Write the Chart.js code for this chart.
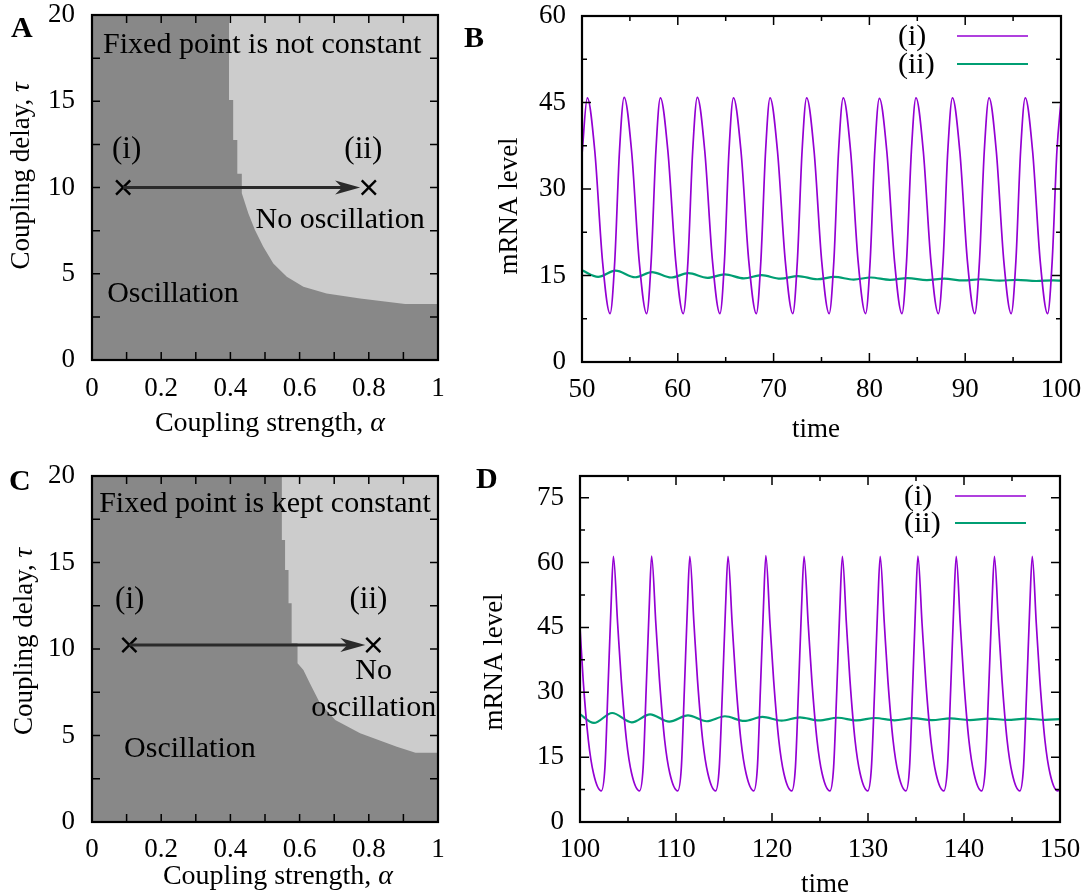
<!DOCTYPE html>
<html><head><meta charset="utf-8">
<script src="https://cdn.jsdelivr.net/npm/chart.js@4.4.1/dist/chart.umd.min.js"></script>
<style>
html,body{margin:0;padding:0;background:#fff;}
#wrap{position:relative;width:1090px;height:896px;overflow:hidden;background:#fff;}
canvas{position:absolute;}
</style></head><body>
<div id="wrap">
<canvas id="cA" width="460" height="440" style="left:0;top:0;width:460px;height:440px"></canvas>
<canvas id="cB" width="630" height="440" style="left:460px;top:0;width:630px;height:440px"></canvas>
<canvas id="cC" width="460" height="448" style="left:0;top:448px;width:460px;height:448px"></canvas>
<canvas id="cD" width="630" height="448" style="left:460px;top:448px;width:630px;height:448px"></canvas>
</div>
<script>
const FONT = "'Liberation Serif','Times New Roman',serif";

// ---------- Panel A / C : phase diagrams ----------
const alphaTickLabels = [0, 0.2, 0.4, 0.6, 0.8, 1];
const alphaTickMarks = [0.1, 0.2, 0.3, 0.4, 0.5, 0.6, 0.7, 0.8, 0.9];
const tauTickLabels = [0, 5, 10, 15, 20];
const tauTickMarks = [2.5, 5, 7.5, 10, 12.5, 15, 17.5];

// boundary of the "no oscillation" region (light region lies above it)
const boundaryA_alpha = [0.396, 0.396, 0.408, 0.408, 0.42, 0.42, 0.433, 0.433, 0.452, 0.471, 0.495, 0.524, 0.563, 0.611, 0.678, 0.775, 0.905, 1.0];
const boundaryA_tau   = [20, 15.07, 15.07, 12.75, 12.75, 10.8, 10.8, 9.66, 8.5, 7.54, 6.57, 5.6, 4.83, 4.25, 3.86, 3.57, 3.25, 3.25];
const markersA_alpha = [0.09, 0.80];
const markersA_tau   = [10, 10];
const arrowA_alpha = [0.09, 0.775];
const arrowA_tau = 10;

const boundaryC_alpha = [0.548, 0.548, 0.558, 0.558, 0.568, 0.568, 0.577, 0.577, 0.594, 0.594, 0.611, 0.63, 0.659, 0.703, 0.775, 0.881, 0.935, 1.0];
const boundaryC_tau   = [20, 16.3, 16.3, 14.57, 14.57, 12.64, 12.64, 10.33, 10.33, 9.17, 8.79, 8.0, 6.86, 5.9, 5.13, 4.35, 4.0, 4.0];
const markersC_alpha = [0.108, 0.813];
const markersC_tau   = [10.23, 10.23];
const arrowC_alpha = [0.108, 0.79];
const arrowC_tau = 10.23;

// ---------- Panel B ----------
const timeTicksB = [50, 60, 70, 80, 90, 100];
const timeMajorB = [60, 70, 80, 90];
const timeMinorB = [55, 65, 75, 85, 95];
const mrnaTicksB = [0, 15, 30, 45, 60];
const mrnaMajorB = [15, 30, 45];
const mrnaMinorB = [7.5, 22.5, 37.5, 52.5];

const timeB_i = [50, 50.55,
  51.34, 52.14, 52.93, 53.42, 53.91, 54.40,
  55.18, 55.97, 56.75, 57.22, 57.71, 58.18,
  58.97, 59.78, 60.57, 61.06, 61.55, 62.04,
  62.82, 63.62, 64.4, 64.87, 65.34, 65.81,
  66.6, 67.41, 68.2, 68.67, 69.16, 69.63,
  70.41, 71.22, 72.0, 72.48, 72.97, 73.45,
  74.23, 75.02, 75.8, 76.29, 76.78, 77.27,
  78.04, 78.82, 79.6, 80.08, 80.56, 81.04,
  81.82, 82.62, 83.4, 83.88, 84.38, 84.86,
  85.63, 86.42, 87.2, 87.69, 88.18, 88.67,
  89.44, 90.23, 91.0, 91.49, 91.99, 92.49,
  93.25, 94.03, 94.8, 95.29, 95.78, 96.27,
  97.04, 97.83, 98.6, 99.08, 99.57, 100];
const mrnaB_i = [36, 45.8,
  36.5, 17.5, 8.4, 17.5, 36.5, 45.9,
  36.5, 17.5, 8.4, 17.5, 36.5, 45.8,
  36.5, 17.5, 8.4, 17.5, 36.5, 45.9,
  36.5, 17.5, 8.4, 17.5, 36.5, 45.8,
  36.5, 17.5, 8.4, 17.5, 36.5, 45.8,
  36.5, 17.5, 8.4, 17.5, 36.5, 45.8,
  36.5, 17.5, 8.4, 17.5, 36.5, 45.8,
  36.5, 17.5, 8.4, 17.5, 36.5, 45.7,
  36.5, 17.5, 8.4, 17.5, 36.5, 45.8,
  36.5, 17.5, 8.4, 17.5, 36.5, 45.8,
  36.5, 17.5, 8.4, 17.5, 36.5, 45.8,
  36.5, 17.5, 8.4, 17.5, 36.5, 45.8,
  36.5, 17.5, 8.4, 17.5, 36.5, 45.3];

const timeB_ii = [50, 51.68, 53.5, 55.55, 57.3, 59.3, 61.1, 63.1, 64.9, 66.9, 68.75, 70.7, 72.55, 74.55, 76.35, 78.35, 80.15, 82.15, 84.0, 86.0, 87.8, 89.8, 91.6, 93.6, 95.4, 97.4, 99.2, 100];
const mrnaB_ii = [15.9, 14.75, 15.85, 14.7, 15.6, 14.65, 15.4, 14.6, 15.2, 14.5, 15.05, 14.45, 14.9, 14.35, 14.75, 14.3, 14.65, 14.25, 14.55, 14.2, 14.45, 14.15, 14.35, 14.1, 14.25, 14.05, 14.15, 14.1];

// ---------- Panel D ----------
const timeTicksD = [100, 110, 120, 130, 140, 150];
const timeMajorD = [110, 120, 130, 140];
const timeMinorD = [105, 115, 125, 135, 145];
const mrnaTicksD = [0, 15, 30, 45, 60, 75];
const mrnaMajorD = [15, 30, 45, 60, 75];
const mrnaMinorD = [7.5, 22.5, 37.5, 52.5, 67.5];

const timeD_i = [100, 100.33, 100.87, 101.41,
  102.22, 102.6, 102.91, 103.23, 103.48, 103.92, 104.30, 104.84, 105.38,
  106.2, 106.58, 106.89, 107.21, 107.46, 107.9, 108.28, 108.82, 109.36,
  110.18, 110.56, 110.87, 111.19, 111.44, 111.87, 112.24, 112.78, 113.32,
  114.12, 114.51, 114.84, 115.16, 115.42, 115.85, 116.22, 116.76, 117.3,
  118.1, 118.48, 118.79, 119.11, 119.36, 119.79, 120.17, 120.71, 121.24,
  122.05, 122.44, 122.76, 123.08, 123.34, 123.77, 124.15, 124.69, 125.22,
  126.03, 126.42, 126.75, 127.07, 127.33, 127.75, 128.12, 128.65, 129.18,
  129.97, 130.36, 130.69, 131.01, 131.27, 131.7, 132.07, 132.61, 133.15,
  133.95, 134.33, 134.64, 134.95, 135.2, 135.63, 136.01, 136.55, 137.08,
  137.89, 138.28, 138.61, 138.93, 139.19, 139.61, 139.98, 140.51, 141.04,
  141.83, 142.23, 142.57, 142.9, 143.17, 143.59, 143.96, 144.49, 145.02,
  145.81, 146.2, 146.53, 146.85, 147.11, 147.53, 147.9, 148.43, 148.96,
  149.75, 150];
const mrnaD_i = [45.0, 32.8, 18.9, 11.2,
  7.2, 12.7, 30.5, 49.7, 61.4, 45.9, 32.8, 18.9, 11.2,
  7.2, 12.7, 30.5, 49.7, 61.5, 45.9, 32.8, 18.9, 11.2,
  7.2, 12.7, 30.5, 49.7, 61.4, 45.9, 32.8, 18.9, 11.2,
  7.2, 12.7, 30.5, 49.7, 61.4, 45.9, 32.8, 18.9, 11.2,
  7.2, 12.7, 30.5, 49.7, 61.6, 45.9, 32.8, 18.9, 11.2,
  7.2, 12.7, 30.5, 49.7, 61.4, 45.9, 32.8, 18.9, 11.2,
  7.2, 12.7, 30.5, 49.7, 61.4, 45.9, 32.8, 18.9, 11.2,
  7.2, 12.7, 30.5, 49.7, 61.4, 45.9, 32.8, 18.9, 11.2,
  7.2, 12.7, 30.5, 49.7, 61.5, 45.9, 32.8, 18.9, 11.2,
  7.2, 12.7, 30.5, 49.7, 61.4, 45.9, 32.8, 18.9, 11.2,
  7.2, 12.7, 30.5, 49.7, 61.4, 45.9, 32.8, 18.9, 11.2,
  7.2, 12.7, 30.5, 49.7, 61.4, 45.9, 32.8, 18.9, 11.2,
  7.2, 7.6];

const timeD_ii = [100, 101.45, 103.35, 105.4, 107.3, 109.3, 111.25, 113.2, 115.1, 117.1, 119.0, 121.0, 122.9, 124.9, 126.85, 128.8, 130.75, 132.75, 134.7, 136.65, 138.6, 140.6, 142.5, 144.5, 146.45, 148.45, 150];
const mrnaD_ii = [24.9, 22.9, 25.2, 23.05, 24.9, 23.2, 24.67, 23.3, 24.45, 23.36, 24.3, 23.42, 24.2, 23.48, 24.1, 23.5, 24.05, 23.52, 24.0, 23.55, 23.95, 23.57, 23.92, 23.6, 23.9, 23.62, 23.8];

const PURPLE = '#9400d3', GREEN = '#009e73', DARK = '#888888', LIGHT = '#cccccc';

// ---------- helpers ----------
const pts = (xs, ys) => xs.map((x, i) => ({x: x, y: Array.isArray(ys) ? ys[i] : ys}));

function drawParts(ctx, parts, x, y, size, align, baseline, rot) {
  ctx.save();
  ctx.translate(x, y);
  if (rot) ctx.rotate(rot);
  ctx.textBaseline = baseline || 'middle';
  ctx.textAlign = 'left';
  ctx.fillStyle = '#000';
  const fonts = parts.map(p => (p.i ? 'italic ' : '') + (p.b ? 'bold ' : '') + size + 'px ' + FONT);
  let w = 0;
  parts.forEach((p, k) => { ctx.font = fonts[k]; w += ctx.measureText(p.t).width; });
  let cx = align === 'center' ? -w / 2 : (align === 'right' ? -w : 0);
  parts.forEach((p, k) => { ctx.font = fonts[k]; ctx.fillText(p.t, cx, 0); cx += ctx.measureText(p.t).width; });
  ctx.restore();
}

function decor(cfg) {
  return {
    id: 'decor',
    beforeDraw(chart) {
      if (!cfg.bg) return;
      const a = chart.chartArea, ctx = chart.ctx;
      ctx.save(); ctx.fillStyle = cfg.bg;
      ctx.fillRect(a.left, a.top, a.right - a.left, a.bottom - a.top);
      ctx.restore();
    },
    afterDatasetsDraw(chart) {
      const ctx = chart.ctx, xs = chart.scales.x, ys = chart.scales.y;
      if (cfg.arrow) {
        const x0 = xs.getPixelForValue(cfg.arrow.x[0]), x1 = xs.getPixelForValue(cfg.arrow.x[1]);
        const y = ys.getPixelForValue(cfg.arrow.y);
        ctx.save();
        ctx.strokeStyle = '#2a2a2a'; ctx.fillStyle = '#2a2a2a'; ctx.lineWidth = 3;
        ctx.beginPath(); ctx.moveTo(x0, y); ctx.lineTo(x1 - 16, y); ctx.stroke();
        ctx.beginPath(); ctx.moveTo(x1, y); ctx.lineTo(x1 - 25, y - 7); ctx.lineTo(x1 - 18, y); ctx.lineTo(x1 - 25, y + 7); ctx.closePath(); ctx.fill();
        ctx.restore();
      }
      (cfg.texts || []).forEach(t => drawParts(ctx, [{t: t.t}], xs.getPixelForValue(t.x), ys.getPixelForValue(t.y), t.size, 'center', 'middle'));
      if (cfg.legend) {
        const L = cfg.legend;
        chart.data.datasets.forEach((ds, k) => {
          const y = L.y[k];
          drawParts(ctx, [{t: ds.label}], L.textX, y + 1, L.size, 'left', 'middle');
          ctx.save(); ctx.strokeStyle = ds.borderColor; ctx.lineWidth = ds.borderWidth;
          ctx.beginPath(); ctx.moveTo(L.x0, y); ctx.lineTo(L.x1, y); ctx.stroke(); ctx.restore();
        });
      }
    },
    afterDraw(chart) {
      const ctx = chart.ctx, a = chart.chartArea, xs = chart.scales.x, ys = chart.scales.y;
      ctx.save();
      ctx.strokeStyle = '#000'; ctx.lineWidth = 1.5;
      const tk = (vals, len, horiz) => vals.forEach(v => {
        ctx.beginPath();
        if (horiz) { const p = xs.getPixelForValue(v); ctx.moveTo(p, a.bottom); ctx.lineTo(p, a.bottom - len); ctx.moveTo(p, a.top); ctx.lineTo(p, a.top + len); }
        else { const p = ys.getPixelForValue(v); ctx.moveTo(a.left, p); ctx.lineTo(a.left + len, p); ctx.moveTo(a.right, p); ctx.lineTo(a.right - len, p); }
        ctx.stroke();
      });
      tk(cfg.xMajor, cfg.majorLen, true); tk(cfg.xMinor || [], cfg.minorLen, true);
      tk(cfg.yMajor, cfg.majorLen, false); tk(cfg.yMinor || [], cfg.minorLen, false);
      ctx.lineWidth = 2.2;
      ctx.strokeRect(a.left, a.top, a.right - a.left, a.bottom - a.top);
      ctx.restore();
      cfg.titles.forEach(t => drawParts(ctx, t.parts, t.x, t.y, t.size, 'center', t.baseline || 'middle', t.rot));
      drawParts(ctx, [{t: cfg.letter.t, b: true}], cfg.letter.x, cfg.letter.y, 30, 'left', 'alphabetic');
    }
  };
}

function makeChart(id, o) {
  const tickFont = {family: FONT, size: 27};
  return new Chart(document.getElementById(id), {
    type: 'line',
    data: {datasets: o.datasets},
    options: {
      responsive: false, animation: false, events: [],
      layout: {padding: {left: 0, right: o.pad.right, top: o.pad.top, bottom: 0}},
      plugins: {legend: {display: false}, tooltip: {enabled: false}},
      scales: {
        x: {type: 'linear', min: o.xr[0], max: o.xr[1],
            afterBuildTicks: s => { s.ticks = o.xLabels.map(v => ({value: v})); },
            afterFit: s => { s.height = o.pad.xh; s.paddingLeft = 0; s.paddingRight = 0; },
            grid: {display: false, drawTicks: false}, border: {display: false},
            ticks: {font: tickFont, color: '#000', padding: o.pad.xp, maxRotation: 0, autoSkip: false, callback: v => String(v)}},
        y: {type: 'linear', min: o.yr[0], max: o.yr[1],
            afterBuildTicks: s => { s.ticks = o.yLabels.map(v => ({value: v})); },
            afterFit: s => { s.width = o.pad.yw; s.paddingTop = 0; s.paddingBottom = 0; },
            grid: {display: false, drawTicks: false}, border: {display: false},
            ticks: {font: tickFont, color: '#000', padding: o.pad.yp, autoSkip: false, callback: v => String(v)}}
      }
    },
    plugins: [decor(o.decor)]
  });
}

function phaseDatasets(bA, bT, mA, mT) {
  return [
    {label: 'no oscillation', data: pts(bA, bT), borderWidth: 0, borderColor: LIGHT, backgroundColor: LIGHT, pointRadius: 0, fill: 'end', tension: 0, order: 2},
    {label: 'points', data: pts(mA, mT), showLine: false, pointStyle: 'crossRot', pointRadius: 10, pointBorderWidth: 2.4, borderColor: '#000', pointBorderColor: '#000', order: 1}
  ];
}

// Panel A
makeChart('cA', {
  datasets: phaseDatasets(boundaryA_alpha, boundaryA_tau, markersA_alpha, markersA_tau),
  xr: [0, 1], yr: [0, 20], xLabels: alphaTickLabels, yLabels: tauTickLabels,
  pad: {right: 22, top: 15, xh: 80, yw: 92, xp: 13, yp: 17},
  decor: {
    bg: DARK, xMajor: alphaTickMarks, yMajor: tauTickMarks, majorLen: 8,
    arrow: {x: arrowA_alpha, y: arrowA_tau},
    texts: [
      {t: 'Fixed point is not constant', x: 0.492, y: 18.26, size: 30},
      {t: '(i)', x: 0.1, y: 12.2, size: 31},
      {t: '(ii)', x: 0.784, y: 12.2, size: 31},
      {t: 'No oscillation', x: 0.717, y: 8.12, size: 30},
      {t: 'Oscillation', x: 0.234, y: 3.83, size: 30}
    ],
    titles: [
      {parts: [{t: 'Coupling delay, '}, {t: 'τ', i: true}], x: 22, y: 176, size: 27, rot: -Math.PI / 2},
      {parts: [{t: 'Coupling strength, '}, {t: 'α', i: true}], x: 270, y: 431, size: 28, baseline: 'alphabetic'}
    ],
    letter: {t: 'A', x: 11, y: 37}
  }
});

// Panel C
makeChart('cC', {
  datasets: phaseDatasets(boundaryC_alpha, boundaryC_tau, markersC_alpha, markersC_tau),
  xr: [0, 1], yr: [0, 20], xLabels: alphaTickLabels, yLabels: tauTickLabels,
  pad: {right: 22, top: 28, xh: 74, yw: 92, xp: 12, yp: 17},
  decor: {
    bg: DARK, xMajor: alphaTickMarks, yMajor: tauTickMarks, majorLen: 8,
    arrow: {x: arrowC_alpha, y: arrowC_tau},
    texts: [
      {t: 'Fixed point is kept constant', x: 0.5, y: 18.4, size: 30},
      {t: '(i)', x: 0.109, y: 12.85, size: 31},
      {t: '(ii)', x: 0.799, y: 12.85, size: 31},
      {t: 'No', x: 0.814, y: 8.75, size: 30},
      {t: 'oscillation', x: 0.814, y: 6.57, size: 30},
      {t: 'Oscillation', x: 0.283, y: 4.22, size: 30}
    ],
    titles: [
      {parts: [{t: 'Coupling delay, '}, {t: 'τ', i: true}], x: 25, y: 193.5, size: 27, rot: -Math.PI / 2},
      {parts: [{t: 'Coupling strength, '}, {t: 'α', i: true}], x: 278, y: 436, size: 28, baseline: 'alphabetic'}
    ],
    letter: {t: 'C', x: 9, y: 42}
  }
});

// Panel B
makeChart('cB', {
  datasets: [
    {label: '(i)', data: pts(timeB_i, mrnaB_i), borderColor: PURPLE, borderWidth: 1.7, pointRadius: 0, fill: false, cubicInterpolationMode: 'monotone'},
    {label: '(ii)', data: pts(timeB_ii, mrnaB_ii), borderColor: GREEN, borderWidth: 2.2, pointRadius: 0, fill: false, cubicInterpolationMode: 'monotone'}
  ],
  xr: [50, 100], yr: [0, 60], xLabels: timeTicksB, yLabels: mrnaTicksB,
  pad: {right: 29, top: 16, xh: 78, yw: 122, xp: 12, yp: 16},
  decor: {
    xMajor: timeMajorB, xMinor: timeMinorB, yMajor: mrnaMajorB, yMinor: mrnaMinorB, majorLen: 9, minorLen: 5,
    legend: {textX: 438, x0: 497, x1: 568, y: [36, 64], size: 30},
    titles: [
      {parts: [{t: 'mRNA level'}], x: 50, y: 206, size: 27, rot: -Math.PI / 2},
      {parts: [{t: 'time'}], x: 356, y: 437, size: 27, baseline: 'alphabetic'}
    ],
    letter: {t: 'B', x: 4, y: 47}
  }
});

// Panel D
makeChart('cD', {
  datasets: [
    {label: '(i)', data: pts(timeD_i, mrnaD_i), borderColor: PURPLE, borderWidth: 1.7, pointRadius: 0, fill: false, cubicInterpolationMode: 'monotone'},
    {label: '(ii)', data: pts(timeD_ii, mrnaD_ii), borderColor: GREEN, borderWidth: 2.2, pointRadius: 0, fill: false, cubicInterpolationMode: 'monotone'}
  ],
  xr: [100, 150], yr: [0, 80], xLabels: timeTicksD, yLabels: mrnaTicksD,
  pad: {right: 30, top: 28, xh: 74, yw: 120, xp: 12, yp: 16},
  decor: {
    xMajor: timeMajorD, xMinor: timeMinorD, yMajor: mrnaMajorD, yMinor: mrnaMinorD, majorLen: 9, minorLen: 5,
    legend: {textX: 444, x0: 495, x1: 566, y: [48, 75], size: 30},
    titles: [
      {parts: [{t: 'mRNA level'}], x: 35, y: 214, size: 27, rot: -Math.PI / 2},
      {parts: [{t: 'time'}], x: 365, y: 444, size: 27, baseline: 'alphabetic'}
    ],
    letter: {t: 'D', x: 16, y: 40}
  }
});
</script>
</body></html>
